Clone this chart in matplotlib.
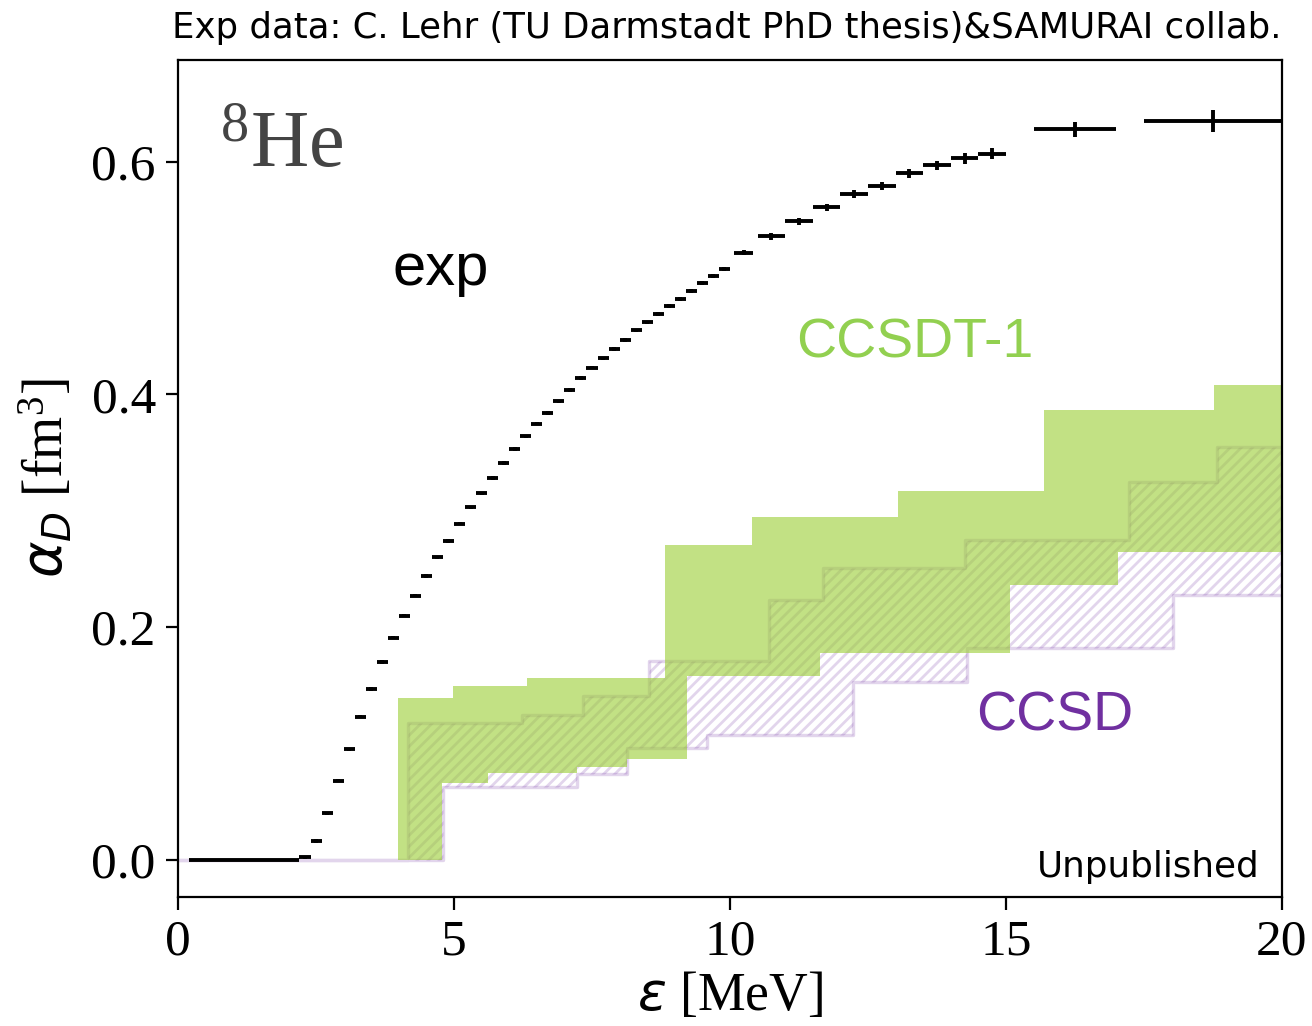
import matplotlib
matplotlib.use("Agg")
import matplotlib.pyplot as plt
import numpy as np


# experimental bins: centre, half width, value, error
EXP_E = [0.3, 0.5, 0.7, 0.9, 1.1, 1.3, 1.5, 1.7, 1.9, 2.1,
         2.3, 2.5, 2.7, 2.9, 3.1, 3.3, 3.5, 3.7, 3.9, 4.1,
         4.3, 4.5, 4.7, 4.9, 5.1, 5.3, 5.5, 5.7, 5.9, 6.1,
         6.3, 6.5, 6.7, 6.9, 7.1, 7.3, 7.5, 7.7, 7.9, 8.1,
         8.3, 8.5, 8.7, 8.9, 9.1, 9.3, 9.5, 9.7, 9.9,
         10.25, 10.75, 11.25, 11.75, 12.25, 12.75, 13.25, 13.75, 14.25, 14.75,
         16.25, 18.75]
EXP_HALF_WIDTH = [0.1] * 49 + [0.17] + [0.25] * 9 + [0.75, 1.25]
EXP_ALPHA = [0.0, 0.0, 0.0, 0.0, 0.0, 0.0, 0.0, 0.0, 0.0, 0.0,
             0.002, 0.016, 0.040, 0.068, 0.095, 0.123, 0.147, 0.170, 0.191, 0.210,
             0.227, 0.244, 0.260, 0.274, 0.289, 0.303, 0.315, 0.328, 0.341, 0.353,
             0.364, 0.375, 0.384, 0.394, 0.404, 0.414, 0.423, 0.431, 0.439, 0.447,
             0.455, 0.462, 0.469, 0.476, 0.482, 0.489, 0.496, 0.502, 0.508,
             0.522, 0.536, 0.549, 0.561, 0.572, 0.579, 0.590, 0.597, 0.603, 0.607,
             0.628, 0.635]
EXP_ERR = [0.0] * 10 + [0.0015] * 39 + [0.002, 0.003, 0.003, 0.003, 0.0035,
                                        0.0035, 0.004, 0.004, 0.0045, 0.0045,
                                        0.0065, 0.0095]

# CCSDT-1 band (step edges: energy where the level starts, level)
CCSDT1_UPPER_E = [0.0, 3.99, 4.99, 6.32, 8.82, 10.39, 13.05, 15.68, 18.76]
CCSDT1_UPPER = [0.0, 0.139, 0.149, 0.156, 0.271, 0.295, 0.317, 0.387, 0.408]
CCSDT1_LOWER_E = [0.0, 4.78, 5.62, 7.22, 8.13, 9.22, 11.63, 15.07, 17.03]
CCSDT1_LOWER = [0.0, 0.066, 0.075, 0.080, 0.087, 0.158, 0.178, 0.236, 0.265]

# CCSD band
CCSD_UPPER_E = [0.0, 4.17, 6.23, 7.33, 8.54, 10.70, 11.69, 14.26, 17.22, 18.82]
CCSD_UPPER = [0.0, 0.1175, 0.1246, 0.141, 0.1705, 0.2235, 0.2507, 0.275, 0.325, 0.355]
CCSD_LOWER_E = [0.0, 4.80, 7.22, 8.13, 9.58, 12.23, 14.29, 18.03]
CCSD_LOWER = [0.0, 0.063, 0.0735, 0.096, 0.107, 0.153, 0.182, 0.228]

E_MAX = 20.0
GREEN_TEXT = "#92D050"
PURPLE_TEXT = "#7030A0"


def step_values(grid, edges, levels):
    idx = np.searchsorted(edges, grid, side="right") - 1
    return np.asarray(levels)[idx]


def main() -> None:
    plt.rcParams["font.family"] = ["Liberation Serif", "DejaVu Serif"]
    plt.rcParams["mathtext.fontset"] = "dejavusans"
    plt.rcParams["hatch.linewidth"] = 1.0

    fig = plt.figure(figsize=(6.56, 5.13), dpi=200)
    ax = fig.add_axes([0.1357, 0.1257, 0.8414, 0.8158])

    grid = np.unique(np.concatenate([CCSDT1_UPPER_E, CCSDT1_LOWER_E,
                                     CCSD_UPPER_E, CCSD_LOWER_E, [E_MAX]]))

    ccsd_lo = step_values(grid, CCSD_LOWER_E, CCSD_LOWER)
    ccsd_hi = step_values(grid, CCSD_UPPER_E, CCSD_UPPER)
    ax.fill_between(grid, ccsd_lo, ccsd_hi, step="post", facecolor="none",
                    edgecolor=(0.44, 0.19, 0.63, 0.2), hatch="//////",
                    linewidth=1.2, joinstyle="round", zorder=1)

    t1_lo = step_values(grid, CCSDT1_LOWER_E, CCSDT1_LOWER)
    t1_hi = step_values(grid, CCSDT1_UPPER_E, CCSDT1_UPPER)
    ax.fill_between(grid, t1_lo, t1_hi, step="post", facecolor="yellowgreen",
                    alpha=0.6, linewidth=0, zorder=2)

    ax.errorbar(EXP_E, EXP_ALPHA, xerr=EXP_HALF_WIDTH, yerr=EXP_ERR,
                fmt="none", ecolor="black", elinewidth=1.4, capsize=0,
                zorder=3)

    ax.set_xlim(0, E_MAX)
    ax.set_ylim(-0.032, 0.6875)
    ax.set_xticks([0, 5, 10, 15, 20])
    ax.set_yticks([0.0, 0.2, 0.4, 0.6])
    ax.yaxis.set_major_formatter(matplotlib.ticker.FormatStrFormatter("%.1f"))
    ax.tick_params(labelsize=18.5, width=0.8, length=4.5)
    for spine in ax.spines.values():
        spine.set_linewidth(0.8)

    ax.set_xlabel(r"$\varepsilon$ [MeV]", fontsize=19.3, labelpad=2)
    ax.set_ylabel(r"$\alpha_D$ [fm$\mathregular{^3}$]", fontsize=20, labelpad=6)

    sans = ["Liberation Sans", "DejaVu Sans"]
    ax.text(0.038, 0.871, r"$\mathregular{^8He}$", transform=ax.transAxes,
            fontsize=29, color="#444444", va="baseline")
    ax.text(4.75, 0.494, "exp", fontsize=21.5, family=sans, ha="center",
            va="baseline", color="black")
    ax.text(13.35, 0.432, "CCSDT-1", fontsize=20, family=sans, ha="center",
            va="baseline", color=GREEN_TEXT)
    ax.text(15.89, 0.111, "CCSD", fontsize=20, family=sans, ha="center",
            va="baseline", color=PURPLE_TEXT)
    ax.text(19.6, -0.0146, "Unpublished", fontsize=12.9, family=["DejaVu Sans"],
            ha="right", va="baseline", color="black")

    ax.set_title("Exp data: C. Lehr (TU Darmstadt PhD thesis)&SAMURAI collab.",
                 loc="right", fontsize=12.8, family=["DejaVu Sans"], pad=8)

    fig.savefig("out.png", dpi=200)


if __name__ == "__main__":
    main()
